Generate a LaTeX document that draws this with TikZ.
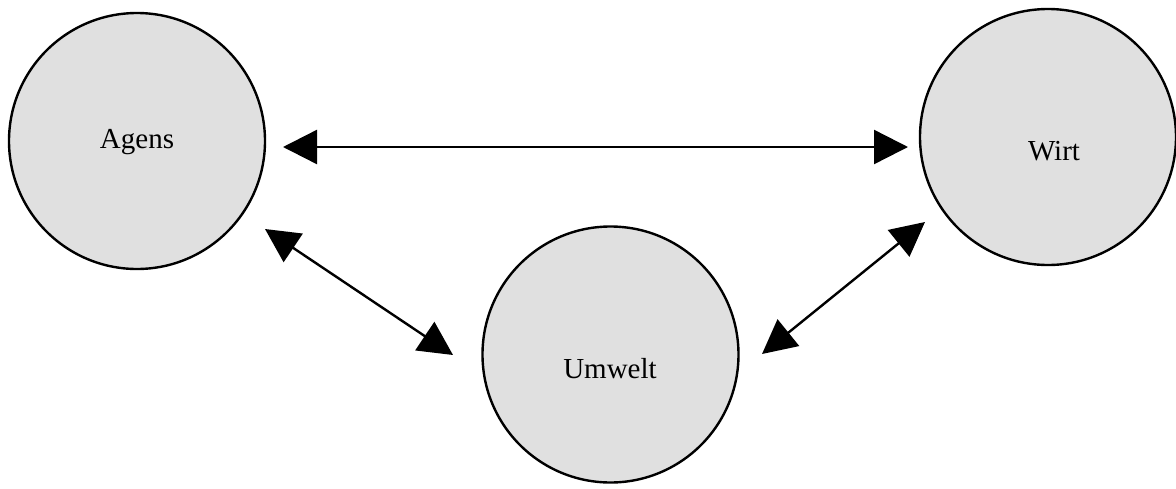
\documentclass[tikz,border=0pt]{standalone}
\usepackage{fontspec}
\setmainfont{Liberation Serif}
\usetikzlibrary{arrows.meta,calc}
\definecolor{ballfill}{HTML}{E0E0E0}
\tikzset{
  ball/.style={circle, draw=black, line width=2.4pt, fill=ballfill,
               minimum size=256pt, inner sep=0pt},
  caption/.style={anchor=base, font=\fontsize{29pt}{34pt}\selectfont},
  both/.style={line width=2.4pt,
               {Triangle[length=34pt,width=34pt]}-{Triangle[length=34pt,width=34pt]}}
}
\begin{document}
\begin{tikzpicture}[x=1pt,y=1pt]
  \useasboundingbox (0,0) rectangle (1176,-488);
  % the three circles
  \node[ball] (agens)  at (137,-141)   {};
  \node[ball] (wirt)   at (1048,-137)  {};
  \node[ball] (umwelt) at (610.5,-354.5) {};
  % their labels
  \node[caption] (agensT)  at (137,-148)  {Agens};
  \node[caption] (wirtT)   at (1054,-160) {Wirt};
  \node[caption] (umweltT) at (610,-378)  {Umwelt};
  % two-headed connectors
  \draw[both] ($(agens.center)+(146,-6)$) -- ($(wirt.center)+(-140,-10)$);
  \draw[both] ($(agens.center)+(128,-88)$) -- ($(umwelt.center)+(-157.5,-0.5)$);
  \draw[both] ($(umwelt.center)+(151.5,0.5)$) -- ($(wirt.center)+(-123,-85)$);
\end{tikzpicture}
\end{document}
